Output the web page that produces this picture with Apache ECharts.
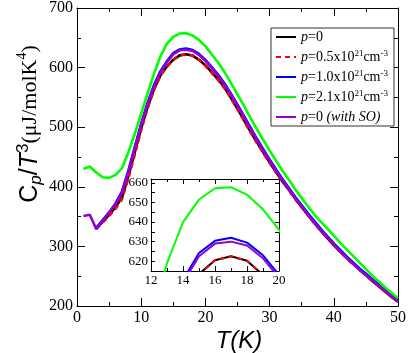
<!DOCTYPE html>
<html>
<head>
<meta charset="utf-8">
<script src="https://cdn.jsdelivr.net/npm/echarts@6/dist/echarts.min.js"></script>
<style>
  html, body { margin: 0; padding: 0; background: #fff; }
  #chart { width: 409px; height: 353px; }
</style>
</head>
<body>
<div id="chart"></div>
<script>
// temperatures (K)
const tempAll = [1, 2, 3, 4, 5, 6, 7, 8, 9, 10, 11, 12, 13, 14, 15, 16, 17, 18, 19, 20,
  21, 22, 23, 24, 25, 26, 27, 28, 29, 30, 31, 32, 33, 34, 35, 36, 37, 38, 39, 40,
  41, 42, 43, 44, 45, 46, 47, 48, 49, 50];
const tempFrom3 = [3, 4, 5, 6, 7, 8, 9, 10, 11, 12, 13, 14, 15, 16, 17, 18, 19, 20,
  21, 22, 23, 24, 25, 26, 27, 28, 29, 30, 31, 32, 33, 34, 35, 36, 37, 38, 39, 40,
  41, 42, 43, 44, 45, 46, 47, 48, 49, 50];

// Cp/T^3 values
const cpP0 = [330, 341, 353, 366, 382, 418, 458, 498, 534, 564, 587, 602, 613.5, 620.5, 622.5,
  620.2, 613, 604, 592, 580, 566, 549, 531, 512, 493, 475, 458, 441, 425, 409,
  395, 380, 366, 352, 339, 326, 314, 302, 291, 281, 271, 261, 252, 242, 233, 224, 215, 207];
const cpP05 = [330, 340, 351, 363, 379, 414, 454, 495, 532, 563, 586.5, 601.5, 613, 620.5, 622.5,
  620.2, 613, 603, 591, 579, 565, 548, 530, 511, 492, 474, 457, 440, 424, 409,
  394, 379, 365, 352, 338, 326, 314, 302, 291, 280, 270, 261, 251, 242, 233, 224, 215, 207];
const cpP10 = [331, 344, 357, 372, 392, 427, 467, 506, 541, 571, 594, 610.5, 624.2, 630.4, 632,
  629.5, 623, 613, 601, 588, 573, 556, 538, 519, 500, 481, 463, 446, 429, 413,
  398, 383, 369, 355, 342, 329, 317, 305, 294, 283, 273, 263, 254, 245, 236, 227, 218, 209];
const cpP21 = [430, 434, 424, 416, 415, 420, 431, 458, 489, 523, 557, 590, 619, 640, 651.5,
  657.3, 657.8, 654, 646.5, 636, 622, 608, 592, 574, 555, 536, 516, 497, 479, 461,
  444, 427, 412, 396, 381, 367, 353, 341, 330, 318, 306, 295, 284, 273, 262, 251, 241, 231, 222, 213];
const cpSO = [351, 353, 329, 343, 356, 371, 390, 424, 464, 504, 539, 569, 592, 609, 622.5,
  629, 630, 628, 621.5, 611.5, 599, 586, 571, 554, 536, 517, 498, 479, 461, 444,
  427, 411, 396, 381, 367, 353, 340, 327, 315, 303, 292, 281, 271, 261, 252, 243, 234, 225, 216, 208];

const seriesNames = ['p0', 'p05', 'p10', 'p21', 'pSO'];
const legendLabels = {
  p0: '{i|p}{n|=0}',
  p05: '{i|p}{n|=0.5x10}{s|21}{n|cm}{s|-3}',
  p10: '{i|p}{n|=1.0x10}{s|21}{n|cm}{s|-3}',
  p21: '{i|p}{n|=2.1x10}{s|21}{n|cm}{s|-3}',
  pSO: '{i|p}{n|=0 }{i|(with SO)}'
};

const pair = (xs, ys) => xs.map((x, k) => [x, ys[k]]);
const curves = [
  { name: 'p0', data: pair(tempFrom3, cpP0), color: '#000000', type: 'solid' },
  { name: 'p05', data: pair(tempFrom3, cpP05), color: '#ff0000', type: [5, 4] },
  { name: 'p10', data: pair(tempFrom3, cpP10), color: '#0000ff', type: 'solid' },
  { name: 'p21', data: pair(tempAll, cpP21), color: '#00ff00', type: 'solid' },
  { name: 'pSO', data: pair(tempAll, cpSO), color: '#9400d3', type: 'solid' }
];

const serif = 'Liberation Serif';
const sans = 'Liberation Sans';
const black = { color: '#000', width: 1 };

function axis(extra, tickLen, minorLen, labelSize) {
  return Object.assign({
    type: 'value',
    axisLine: { show: true, onZero: false, lineStyle: black },
    axisTick: { show: true, inside: true, length: tickLen, lineStyle: black },
    minorTick: { show: true, splitNumber: 2, length: minorLen, lineStyle: black },
    splitLine: { show: false },
    axisLabel: { color: '#000', fontFamily: serif, fontSize: labelSize, margin: 4 }
  }, extra);
}

const chart = echarts.init(document.getElementById('chart'));
const mainSeries = curves.map((c) => ({
  name: c.name, type: 'line', xAxisIndex: 0, yAxisIndex: 0,
  data: c.data, symbol: 'none', animation: false,
  lineStyle: { color: c.color, width: 2.6, type: c.type },
  itemStyle: { color: c.color }
}));
const insetSeries = curves.map((c) => ({
  name: c.name, type: 'line', xAxisIndex: 2, yAxisIndex: 2,
  data: c.data, symbol: 'none', animation: false, clip: true,
  lineStyle: { color: c.color, width: 2, type: c.type },
  itemStyle: { color: c.color }
}));

chart.setOption({
  animation: false,
  grid: [
    { left: 77, right: 10, top: 7, bottom: 47 },
    { left: 151, top: 179, width: 128, height: 92 }
  ],
  xAxis: [
    axis({ gridIndex: 0, position: 'bottom', min: 0, max: 50, interval: 10 }, 8, 4, 16),
    axis({ gridIndex: 0, position: 'top', min: 0, max: 50, interval: 10,
      axisLabel: { show: false } }, 8, 4, 16),
    axis({ gridIndex: 1, position: 'bottom', min: 12, max: 20, interval: 2,
      axisLabel: { color: '#000', fontFamily: serif, fontSize: 13, margin: 3 } }, 5, 3, 13),
    axis({ gridIndex: 1, position: 'top', min: 12, max: 20, interval: 2,
      axisLabel: { show: false } }, 5, 3, 13)
  ],
  yAxis: [
    axis({ gridIndex: 0, position: 'left', min: 200, max: 700, interval: 100 }, 8, 4, 16),
    axis({ gridIndex: 0, position: 'right', min: 200, max: 700, interval: 100,
      axisLabel: { show: false } }, 8, 4, 16),
    axis({ gridIndex: 1, position: 'left', min: 615, max: 662, interval: 5,
      minorTick: { show: false },
      axisLabel: { color: '#000', fontFamily: serif, fontSize: 13, margin: 3,
        formatter: (v) => (v % 10 === 0 ? String(v) : '') } }, 4, 3, 13),
    axis({ gridIndex: 1, position: 'right', min: 615, max: 662, interval: 5,
      minorTick: { show: false }, axisLabel: { show: false } }, 4, 3, 13)
  ],
  legend: {
    data: seriesNames,
    orient: 'vertical',
    left: 271, top: 28,
    padding: [1, 6, 1, 4],
    itemGap: 4,
    itemWidth: 20, itemHeight: 12,
    itemStyle: { opacity: 0 },
    borderColor: '#333', borderWidth: 1,
    backgroundColor: '#fff',
    formatter: (name) => legendLabels[name],
    textStyle: {
      color: '#000', fontFamily: serif, fontSize: 14, lineHeight: 16,
      rich: {
        i: { fontFamily: serif, fontStyle: 'italic', fontSize: 14, lineHeight: 16, color: '#000' },
        n: { fontFamily: serif, fontSize: 14, lineHeight: 16, color: '#000' },
        s: { fontFamily: serif, fontSize: 9, lineHeight: 9, verticalAlign: 'top', color: '#000' }
      }
    }
  },
  graphic: [
    {
      type: 'text', x: 239, y: 341,
      style: { text: 'T(K)', font: 'italic 24px "Liberation Sans"', fill: '#000',
        align: 'center', verticalAlign: 'middle' }
    },
    {
      type: 'text', x: 30, y: 124, rotation: Math.PI / 2,
      style: {
        text: '{c|C}{sub|p}{c|/}{ci|T}{sup|3}{u|(μJ/molK}{su|4}{u|)}',
        align: 'center', verticalAlign: 'middle',
        rich: {
          c: { fontFamily: sans, fontSize: 25, lineHeight: 30, fill: '#000' },
          ci: { fontFamily: sans, fontStyle: 'italic', fontSize: 25, lineHeight: 30, fill: '#000' },
          sub: { fontFamily: sans, fontStyle: 'italic', fontSize: 17, lineHeight: 17,
            verticalAlign: 'bottom', fill: '#000' },
          sup: { fontFamily: sans, fontSize: 17, lineHeight: 17, verticalAlign: 'top', fill: '#000' },
          u: { fontFamily: serif, fontSize: 22, lineHeight: 30, fill: '#000' },
          su: { fontFamily: serif, fontSize: 14, lineHeight: 14, verticalAlign: 'top', fill: '#000' }
        }
      }
    }
  ],
  series: mainSeries.concat(insetSeries)
});
</script>
</body>
</html>
